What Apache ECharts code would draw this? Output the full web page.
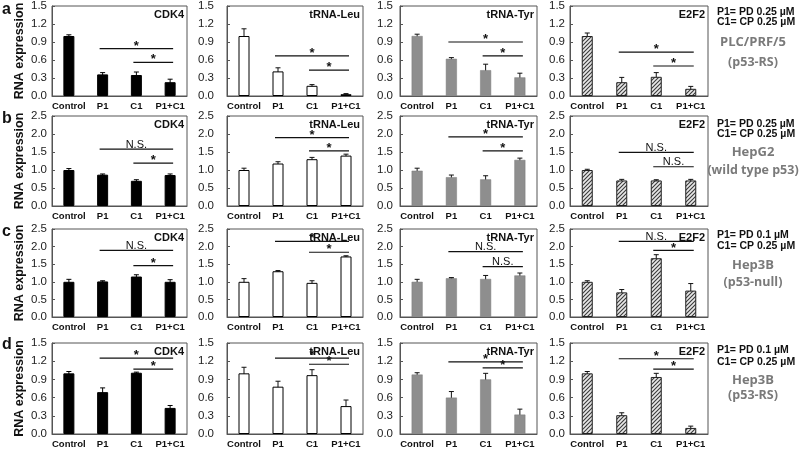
<!DOCTYPE html>
<html><head><meta charset="utf-8">
<script src="https://cdn.jsdelivr.net/npm/echarts@6/dist/echarts.min.js"></script>
<style>html,body{margin:0;padding:0;background:#fff}#c{width:800px;height:449px}</style>
</head><body><div id="c"></div>
<script>
const categories = ['Control', 'P1', 'C1', 'P1+C1'];
const genes = ['CDK4', 'tRNA-Leu', 'tRNA-Tyr', 'E2F2'];
const rowLetters = ['a', 'b', 'c', 'd'];
const yMax = [1.5, 2.5, 2.5, 1.5];
const yInterval = [0.3, 0.5, 0.5, 0.3];

// row a (PLC/PRF/5)
const meanA = [[1.0, 0.36, 0.35, 0.23], [1.0, 0.41, 0.17, 0.03], [1.0, 0.62, 0.43, 0.31], [1.0, 0.23, 0.32, 0.12]];
const errA  = [[0.02, 0.03, 0.05, 0.05], [0.12, 0.06, 0.02, 0.01], [0.03, 0.02, 0.10, 0.07], [0.05, 0.08, 0.07, 0.04]];
const sigA  = [[[0.79, '*'], [0.56, '*']], [[0.67, '*'], [0.43, '*']], [[0.90, '*'], [0.67, '*']], [[0.73, '*'], [0.50, '*']]];
// row b (HepG2)
const meanB = [[1.0, 0.87, 0.70, 0.86], [1.0, 1.18, 1.30, 1.40], [0.98, 0.80, 0.74, 1.28], [1.0, 0.71, 0.71, 0.71]];
const errB  = [[0.04, 0.02, 0.03, 0.03], [0.05, 0.05, 0.05, 0.04], [0.07, 0.06, 0.10, 0.05], [0.02, 0.03, 0.02, 0.03]];
const sigB  = [[[1.58, 'N.S.'], [1.19, '*']], [[1.90, '*'], [1.53, '*']], [[1.92, '*'], [1.53, '*']], [[1.49, 'N.S.'], [1.09, 'N.S.']]];
// row c (Hep3B p53-null)
const meanC = [[1.0, 1.01, 1.15, 1.0], [1.0, 1.30, 0.97, 1.72], [1.0, 1.10, 1.08, 1.18], [1.0, 0.70, 1.67, 0.75]];
const errC  = [[0.07, 0.02, 0.05, 0.06], [0.09, 0.02, 0.06, 0.02], [0.07, 0.02, 0.10, 0.07], [0.03, 0.08, 0.10, 0.20]];
const sigC  = [[[1.89, 'N.S.'], [1.46, '*']], [[2.15, '*'], [1.84, '*']], [[1.86, 'N.S.'], [1.43, 'N.S.']], [[2.15, 'N.S.'], [1.89, '*']]];
// row d (Hep3B p53-RS)
const meanD = [[1.0, 0.69, 1.01, 0.43], [1.0, 0.78, 0.97, 0.46], [0.98, 0.60, 0.90, 0.32], [1.0, 0.31, 0.94, 0.10]];
const errD  = [[0.03, 0.07, 0.01, 0.04], [0.10, 0.09, 0.09, 0.10], [0.03, 0.10, 0.10, 0.09], [0.03, 0.04, 0.06, 0.03]];
const sigD  = [[[1.25, '*'], [1.07, '*']], [[1.25, '*'], [1.15, '*']], [[1.19, '*'], [1.09, '*']], [[1.24, '*'], [1.07, '*']]];

const doseP1 = ['P1= PD 0.25 µM', 'P1= PD 0.25 µM', 'P1= PD 0.1 µM', 'P1= PD 0.1 µM'];
const doseC1 = ['C1= CP 0.25 µM', 'C1= CP 0.25 µM', 'C1= CP 0.25 µM', 'C1= CP 0.25 µM'];
const cellLine = ['PLC/PRF/5', 'HepG2', 'Hep3B', 'Hep3B'];
const p53Status = ['(p53-RS)', '(wild type p53)', '(p53-null)', '(p53-RS)'];

const means = [meanA, meanB, meanC, meanD];
const errs = [errA, errB, errC, errD];
const sigs = [sigA, sigB, sigC, sigD];

// layout
const colLeft = [52, 227, 400, 570];
const colWidth = [135, 136, 137, 138];
const labelMargin = [5, 13, 7, 5];
const rowTop = [6, 116, 229, 343];
const rowHeight = [90, 90, 88, 91];
const rowLetterY = [10, 119, 232, 345];
const rightTextY = [[12, 22, 42, 62], [124, 134, 152, 170], [235, 246, 265, 282], [350, 362, 380, 395]];

// hatch pattern
const pc = document.createElement('canvas');
pc.width = 4; pc.height = 4;
const g = pc.getContext('2d');
g.fillStyle = '#e8e8e8'; g.fillRect(0, 0, 4, 4);
g.strokeStyle = '#3a3a3a'; g.lineWidth = 1.1;
g.beginPath(); g.moveTo(0, 4); g.lineTo(4, 0); g.moveTo(-1, 1); g.lineTo(1, -1); g.moveTo(3, 5); g.lineTo(5, 3); g.stroke();

const barStyles = [
  { color: '#000', borderColor: '#000', borderWidth: 1 },
  { color: '#fff', borderColor: '#000', borderWidth: 1 },
  { color: '#8e8e8e', borderColor: '#7a7a7a', borderWidth: 0.5 },
  { color: { image: pc, repeat: 'repeat' }, borderColor: '#222', borderWidth: 1 }
];

const FONT = 'Liberation Sans, Arial, sans-serif';
const grid = [], xAxis = [], yAxis = [], series = [], graphic = [];

for (let r = 0; r < 4; r++) {
  for (let c = 0; c < 4; c++) {
    const k = r * 4 + c;
    grid.push({ left: colLeft[c], top: rowTop[r], width: colWidth[c], height: rowHeight[r], show: true,
      borderColor: '#555', borderWidth: 1, backgroundColor: 'transparent' });
    xAxis.push({ type: 'category', gridIndex: k, data: categories,
      axisLine: { show: true, lineStyle: { color: '#555' } }, axisTick: { show: false },
      axisLabel: { fontFamily: FONT, fontWeight: 'bold', fontSize: 9.5, color: '#111', margin: 5, interval: 0 } });
    yAxis.push({ type: 'value', gridIndex: k, min: 0, max: yMax[r], interval: yInterval[r],
      axisLine: { show: true, lineStyle: { color: '#555' } },
      axisTick: { show: true, inside: true, length: 3, lineStyle: { color: '#555' } },
      splitLine: { show: false },
      axisLabel: { fontFamily: FONT, fontSize: 11.5, color: '#222', margin: labelMargin[c], formatter: v => v.toFixed(1) } });
    series.push({ type: 'bar', xAxisIndex: k, yAxisIndex: k, data: means[r][c], barWidth: 11,
      itemStyle: barStyles[c], silent: true, animation: false });
    series.push({ type: 'custom', xAxisIndex: k, yAxisIndex: k, animation: false, silent: true,
      data: means[r][c].map((m, i) => [i, m, errs[r][c][i]]),
      encode: { x: 0, y: 1 },
      renderItem: (params, api) => {
        const x = api.value(0), m = api.value(1), e = api.value(2);
        const hi = api.coord([x, m + e]), lo = api.coord([x, Math.max(0, m - e)]);
        const st = { stroke: c === 0 ? '#000' : '#111', lineWidth: 1 };
        return { type: 'group', children: [
          { type: 'line', shape: { x1: hi[0], y1: hi[1], x2: lo[0], y2: lo[1] }, style: st },
          { type: 'line', shape: { x1: hi[0] - 2.5, y1: hi[1], x2: hi[0] + 2.5, y2: hi[1] }, style: st },
          { type: 'line', shape: { x1: lo[0] - 2.5, y1: lo[1], x2: lo[0] + 2.5, y2: lo[1] }, style: st }
        ] };
      } });
    series.push({ type: 'custom', xAxisIndex: k, yAxisIndex: k, animation: false, silent: true,
      data: sigs[r][c].map((s, i) => [i === 0 ? 1 : 2, s[0], s[1]]),
      encode: { x: 0, y: 1 },
      renderItem: (params, api) => {
        const x1 = api.value(0), y = api.value(1);
        const lbl = sigs[r][c][params.dataIndex][1];
        const p1 = api.coord([x1, y]), p2 = api.coord([3, y]);
        const xs = p1[0] - 3, xe = p2[0] + 3;
        const ns = lbl !== '*';
        return { type: 'group', children: [
          { type: 'line', shape: { x1: xs, y1: p1[1], x2: xe, y2: p1[1] }, style: { stroke: '#111', lineWidth: 1.2 } },
          { type: 'text', x: (xs + xe) / 2, y: ns ? p1[1] + 1 : p1[1] + 4,
            style: { text: lbl, fontFamily: FONT, fontWeight: ns ? 'normal' : 'bold', fontSize: ns ? 11 : 13,
              fill: '#111', textAlign: 'center', textVerticalAlign: 'bottom' } }
        ] };
      } });
    graphic.push({ type: 'text', x: colLeft[c] + colWidth[c] - 3, y: rowTop[r] + 3,
      style: { text: genes[c], fontFamily: FONT, fontWeight: 'bold', fontSize: 11, fill: '#111', textAlign: 'right', textVerticalAlign: 'top' } });
  }
  graphic.push({ type: 'text', x: 2, y: rowLetterY[r],
    style: { text: rowLetters[r], fontFamily: FONT, fontWeight: 'bold', fontSize: 16, fill: '#111', textAlign: 'left', textVerticalAlign: 'middle' } });
  graphic.push({ type: 'text', x: 20, y: rowTop[r] + rowHeight[r] / 2, rotation: Math.PI / 2,
    style: { text: 'RNA expression', fontFamily: FONT, fontWeight: 'bold', fontSize: 12.5, fill: '#111', textAlign: 'center', textVerticalAlign: 'middle' } });
  const ry = rightTextY[r];
  graphic.push({ type: 'text', x: 717, y: ry[0], style: { text: doseP1[r], fontFamily: FONT, fontWeight: 'bold', fontSize: 10.5, fill: '#111', textAlign: 'left', textVerticalAlign: 'middle' } });
  graphic.push({ type: 'text', x: 717, y: ry[1], style: { text: doseC1[r], fontFamily: FONT, fontWeight: 'bold', fontSize: 10.5, fill: '#111', textAlign: 'left', textVerticalAlign: 'middle' } });
  graphic.push({ type: 'text', x: 753, y: ry[2], style: { text: cellLine[r], fontFamily: 'Open Sans, sans-serif', fontWeight: 'bold', fontSize: 13, fill: '#7a7a7a', textAlign: 'center', textVerticalAlign: 'middle' } });
  graphic.push({ type: 'text', x: 753, y: ry[3], style: { text: p53Status[r], fontFamily: 'Open Sans, sans-serif', fontWeight: 'bold', fontSize: 12.5, fill: '#7a7a7a', textAlign: 'center', textVerticalAlign: 'middle' } });
}

const chart = echarts.init(document.getElementById('c'), null, { renderer: 'canvas' });
chart.setOption({ animation: false, backgroundColor: '#fff', grid, xAxis, yAxis, series, graphic });
</script></body></html>
